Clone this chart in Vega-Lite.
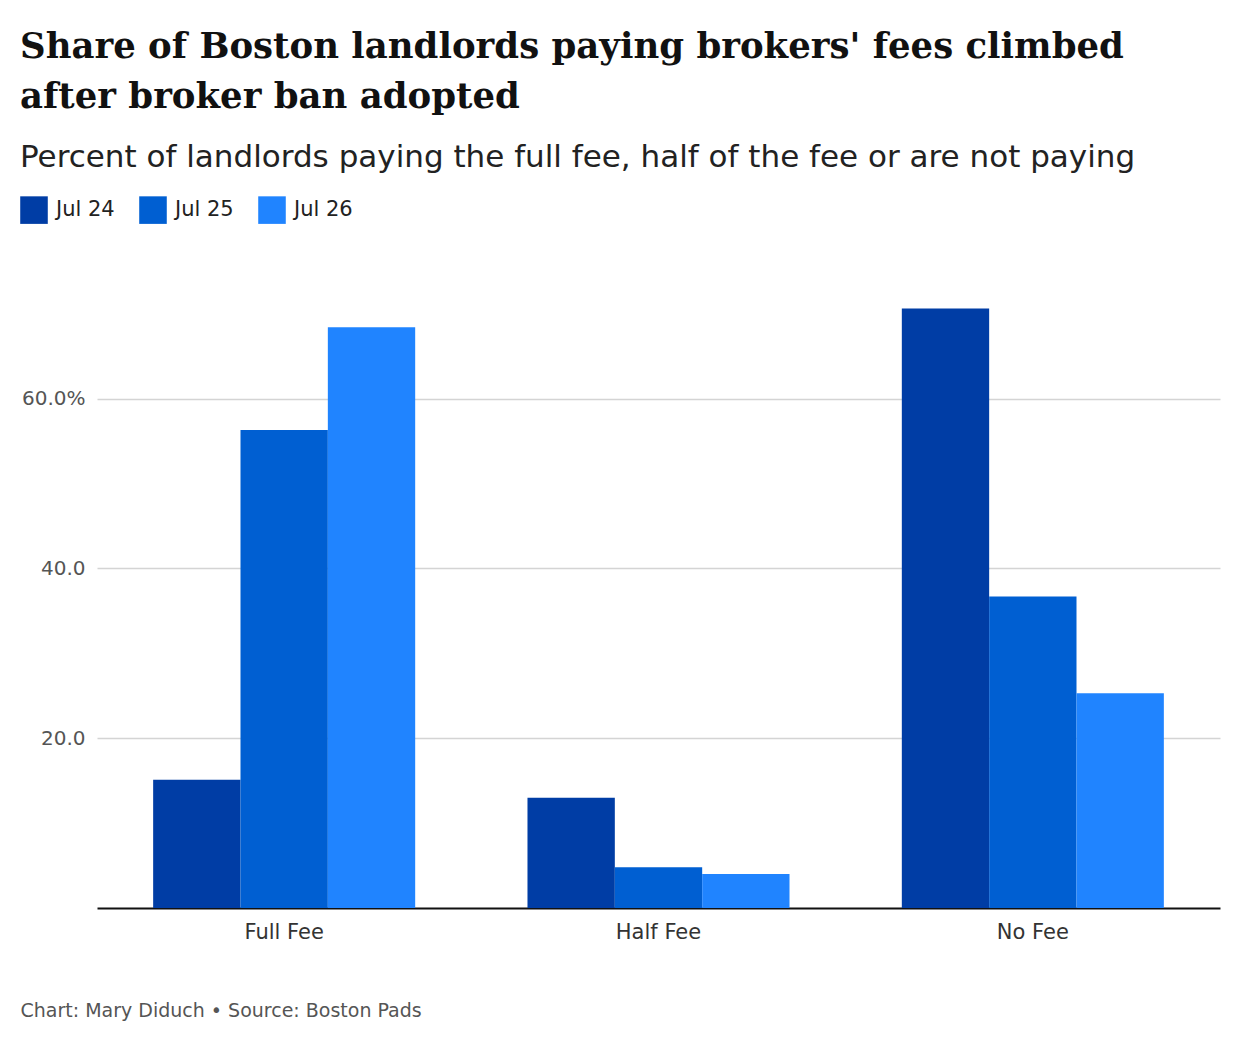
{
  "$schema": "https://vega.github.io/schema/vega-lite/v6.json",
  "autosize": {"type": "none"},
  "width": 1123,
  "height": 658,
  "padding": {"left": 97, "top": 250, "right": 20, "bottom": 136},
  "background": "white",
  "title": {
    "text": ["Share of Boston landlords paying brokers' fees climbed", "after broker ban adopted"],
    "subtitle": "Percent of landlords paying the full fee, half of the fee or are not paying",
    "anchor": "start",
    "frame": "group",
    "dx": -77,
    "offset": 23,
    "font": "DejaVu Serif",
    "fontSize": 35.5,
    "fontWeight": "bold",
    "lineHeight": 50,
    "color": "#111111",
    "subtitleFont": "DejaVu Sans",
    "subtitleFontSize": 31,
    "subtitleColor": "#222222",
    "subtitlePadding": 28
  },
  "data": {
    "values": [
      {"fee": "Full Fee", "month": "Jul 24", "pct": 15.1},
      {"fee": "Full Fee", "month": "Jul 25", "pct": 56.3},
      {"fee": "Full Fee", "month": "Jul 26", "pct": 68.4},
      {"fee": "Half Fee", "month": "Jul 24", "pct": 13.0},
      {"fee": "Half Fee", "month": "Jul 25", "pct": 4.8},
      {"fee": "Half Fee", "month": "Jul 26", "pct": 4.0},
      {"fee": "No Fee", "month": "Jul 24", "pct": 70.6},
      {"fee": "No Fee", "month": "Jul 25", "pct": 36.7},
      {"fee": "No Fee", "month": "Jul 26", "pct": 25.3}
    ]
  },
  "mark": {"type": "bar"},
  "encoding": {
    "x": {
      "field": "fee",
      "type": "nominal",
      "sort": ["Full Fee", "Half Fee", "No Fee"],
      "scale": {"paddingInner": 0.3, "paddingOuter": 0.15},
      "axis": {
        "title": "Chart: Mary Diduch • Source: Boston Pads",
        "titleX": -77,
        "titleY": 108,
        "titleAlign": "left",
        "titleAnchor": "start",
        "titleBaseline": "alphabetic",
        "titleFont": "DejaVu Sans",
        "titleFontSize": 19,
        "titleFontWeight": "normal",
        "titleColor": "#555555",
        "labelAngle": 0,
        "labelFont": "DejaVu Sans",
        "labelFontSize": 21,
        "labelColor": "#333333",
        "labelPadding": 13,
        "ticks": false,
        "domainColor": "#111111",
        "domainWidth": 2
      }
    },
    "xOffset": {"field": "month", "type": "nominal"},
    "y": {
      "field": "pct",
      "type": "quantitative",
      "scale": {"domain": [0, 77.5], "nice": false},
      "axis": {
        "title": null,
        "values": [20, 40, 60],
        "labelExpr": "datum.value == 60 ? '60.0%' : format(datum.value, '.1f')",
        "labelFont": "DejaVu Sans",
        "labelFontSize": 20,
        "labelColor": "#555555",
        "labelPadding": 12,
        "ticks": false,
        "domain": false,
        "gridColor": "#d4d4d4",
        "gridWidth": 1.5
      }
    },
    "color": {
      "field": "month",
      "type": "nominal",
      "scale": {"domain": ["Jul 24", "Jul 25", "Jul 26"], "range": ["#003DA5", "#005FD2", "#2084FF"]},
      "legend": {
        "title": null,
        "orient": "none",
        "direction": "horizontal",
        "legendX": -77,
        "legendY": -54,
        "symbolType": "square",
        "symbolSize": 760,
        "symbolStrokeWidth": 0,
        "symbolOpacity": 1,
        "labelFont": "DejaVu Sans",
        "labelFontSize": 21,
        "labelColor": "#222222",
        "labelOffset": 8,
        "columnPadding": 24
      }
    }
  },
  "config": {"view": {"stroke": null}}
}
